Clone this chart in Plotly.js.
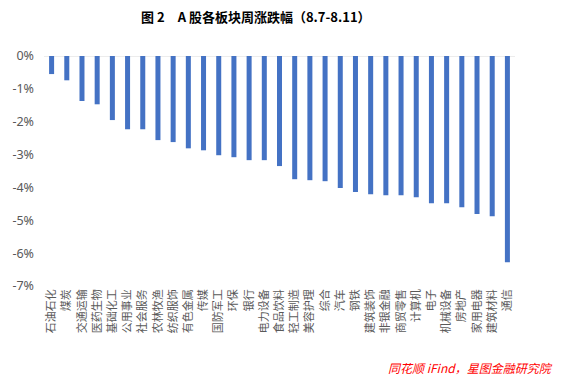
<!DOCTYPE html>
<html>
<head>
<meta charset="utf-8">
<script src="https://cdn.plot.ly/plotly-3.0.1.min.js"></script>
<style>html,body{margin:0;padding:0;background:#fff;}#chart{width:561px;height:379px;}</style>
</head>
<body>
<div id="chart"></div>
<script>
const categories = ["石油石化","煤炭","交通运输","医药生物","基础化工","公用事业","社会服务","农林牧渔","纺织服饰","有色金属","传媒","国防军工","环保","银行","电力设备","食品饮料","轻工制造","美容护理","综合","汽车","钢铁","建筑装饰","非银金融","商贸零售","计算机","电子","机械设备","房地产","家用电器","建筑材料","通信"];
const changes = [-0.55,-0.74,-1.37,-1.47,-1.95,-2.23,-2.23,-2.56,-2.62,-2.81,-2.87,-3.02,-3.08,-3.17,-3.17,-3.35,-3.75,-3.78,-3.81,-4.02,-4.14,-4.21,-4.24,-4.24,-4.30,-4.48,-4.48,-4.60,-4.81,-4.88,-6.28];
const yTickVals = [0,-1,-2,-3,-4,-5,-6,-7];
const yTickText = ["0%","-1%","-2%","-3%","-4%","-5%","-6%","-7%"];
const titleText = "图 2　A 股各板块周涨跌幅（8.7-8.11）";
const sourceText = "同花顺 iFind，星图金融研究院";

const font = '"Noto Sans","Noto Sans CJK SC",sans-serif';
const cjk = '"Noto Sans CJK SC",sans-serif';
Plotly.newPlot('chart', [{
  type: 'bar',
  x: categories,
  y: changes,
  marker: {color: '#4472C4'},
  hoverinfo: 'x+y'
}], {
  width: 561, height: 379,
  margin: {l: 44, r: 46, t: 56, b: 93},
  paper_bgcolor: '#fff', plot_bgcolor: '#fff',
  bargap: 0.67,
  showlegend: false,
  title: {text: '<b>' + titleText + '</b>', x: 0.456, xanchor: 'center', y: 0.955, yanchor: 'middle',
          font: {family: cjk, size: 13, color: '#000'}},
  xaxis: {
    type: 'category', tickangle: -90, showgrid: false, showline: false, zeroline: false,
    ticks: '', tickfont: {family: cjk, size: 11, color: '#595959'}, automargin: false
  },
  yaxis: {
    range: [-7, 0], tickvals: yTickVals, ticktext: yTickText, showgrid: false,
    zeroline: false, showline: false, ticks: '', ticklen: 0, ticklabelstandoff: 9,
    tickfont: {family: font, size: 12.5, color: '#595959'}, automargin: false
  },
  shapes: [{type: 'line', xref: 'paper', yref: 'y', x0: 0, x1: 1, y0: 0, y1: 0,
            line: {color: '#D9D9D9', width: 1}, layer: 'below'}],
  annotations: [{text: '<i>' + sourceText + '</i>', xref: 'paper', yref: 'paper',
                 x: 1.085, y: -0.354, xanchor: 'right', yanchor: 'middle', showarrow: false,
                 font: {family: cjk, size: 12, color: '#FF0000'}}]
}, {displayModeBar: false, staticPlot: true});
</script>
</body>
</html>
